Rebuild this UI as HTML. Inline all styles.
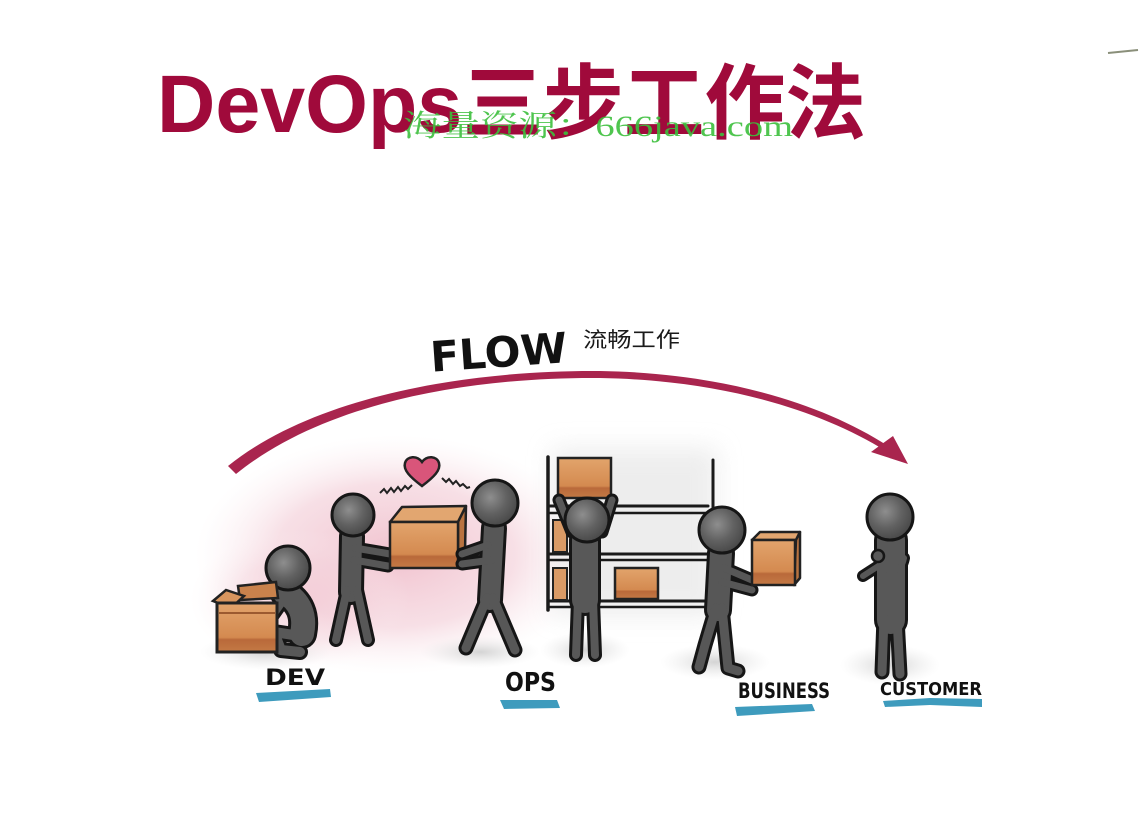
<!DOCTYPE html>
<html><head><meta charset="utf-8"><style>
html,body{margin:0;padding:0;background:#fff;}
svg{display:block;}
</style></head><body>
<svg width="1143" height="818" viewBox="0 0 1143 818" xmlns="http://www.w3.org/2000/svg">
<defs>
<radialGradient id="pink" cx="0.5" cy="0.5" r="0.5">
<stop offset="0" stop-color="#f0bfcc" stop-opacity="0.95"/>
<stop offset="0.6" stop-color="#f4d2db" stop-opacity="0.7"/>
<stop offset="1" stop-color="#fbeef1" stop-opacity="0"/>
</radialGradient>
<radialGradient id="shadow" cx="0.5" cy="0.5" r="0.5">
<stop offset="0" stop-color="#cfcfcf" stop-opacity="0.9"/>
<stop offset="1" stop-color="#e8e8e8" stop-opacity="0"/>
</radialGradient>
<radialGradient id="head" cx="0.4" cy="0.38" r="0.65">
<stop offset="0" stop-color="#8e8e8e"/>
<stop offset="0.55" stop-color="#616161"/>
<stop offset="1" stop-color="#474747"/>
</radialGradient>
<linearGradient id="boxg" x1="0" y1="0" x2="0" y2="1">
<stop offset="0" stop-color="#e2a46c"/>
<stop offset="0.7" stop-color="#d48a50"/>
<stop offset="0.75" stop-color="#b9693a"/>
<stop offset="1" stop-color="#c47a45"/>
</linearGradient>
<filter id="blur" x="-30%" y="-30%" width="160%" height="160%">
<feGaussianBlur stdDeviation="12"/>
</filter>
</defs>

<!-- watercolor backgrounds -->
<ellipse cx="395" cy="555" rx="200" ry="120" fill="url(#pink)"/>
<ellipse cx="300" cy="600" rx="110" ry="70" fill="url(#pink)" opacity="0.6"/>
<rect x="552" y="448" width="165" height="168" fill="#e9e9e9" filter="url(#blur)" opacity="0.8"/>

<!-- ground shadows -->
<ellipse cx="265" cy="652" rx="65" ry="18" fill="url(#shadow)"/>
<ellipse cx="480" cy="652" rx="60" ry="16" fill="url(#shadow)"/>
<ellipse cx="585" cy="650" rx="45" ry="18" fill="url(#shadow)"/>
<ellipse cx="715" cy="662" rx="55" ry="18" fill="url(#shadow)"/>
<ellipse cx="890" cy="665" rx="50" ry="20" fill="url(#shadow)"/>

<!-- top-right small mark -->
<line x1="1108" y1="53" x2="1138" y2="50" stroke="#8a8f7a" stroke-width="2"/>

<!-- Title -->
<text x="157" y="132" textLength="709" lengthAdjust="spacingAndGlyphs" font-family="'Liberation Sans','Noto Sans CJK SC',sans-serif" font-weight="bold" font-size="82" fill="#a00a3b">DevOps三步工作法</text>
<!-- watermark -->
<text x="403" y="136" textLength="390" lengthAdjust="spacingAndGlyphs" font-family="'Liberation Serif','Noto Serif CJK SC',serif" font-size="30" fill="#3cbf3c" opacity="0.9">海量资源：666java.com</text>

<!-- FLOW -->
<g transform="rotate(-4 498 350)">
<text x="430" y="367" textLength="137" lengthAdjust="spacingAndGlyphs" font-family="'DejaVu Sans','Liberation Sans',sans-serif" font-weight="bold" font-size="42" fill="#111">FLOW</text>
</g>
<text x="583" y="347" textLength="97" lengthAdjust="spacingAndGlyphs" font-family="'Liberation Sans','Noto Sans CJK SC',sans-serif" font-size="21" fill="#1a1a1a">流畅工作</text>

<!-- Arc (tapered) -->
<path d="M228,466 C320,392 480,370 600,371 C720,373 820,402 888,446 L886,451 C818,409 720,380 600,378 C482,377 330,398 236,474 Z" fill="#a9254e"/>
<polygon points="871,452 893,436 908,464" fill="#a9254e"/>

<!-- Shelf -->
<g stroke="#1a1a1a" stroke-linecap="round" fill="none">
<line x1="548" y1="457" x2="548" y2="610" stroke-width="3.5"/>
<line x1="713" y1="460" x2="713" y2="512" stroke-width="3"/>
<line x1="550" y1="506" x2="708" y2="506" stroke-width="3"/>
<line x1="550" y1="513" x2="708" y2="513" stroke-width="2.5"/>
<line x1="550" y1="554" x2="708" y2="554" stroke-width="3"/>
<line x1="550" y1="560" x2="708" y2="560" stroke-width="2.5"/>
<line x1="550" y1="601" x2="708" y2="601" stroke-width="3"/>
<line x1="550" y1="607" x2="708" y2="607" stroke-width="2.5"/>
</g>
<!-- shelf boxes -->
<rect x="553" y="520" width="14" height="32" fill="#d99a66" stroke="#222" stroke-width="2"/>
<rect x="553" y="568" width="14" height="32" fill="#d99a66" stroke="#222" stroke-width="2"/>
<rect x="615" y="568" width="43" height="31" fill="url(#boxg)" stroke="#222" stroke-width="2.5"/>

<!-- Figure 1 DEV squatting -->
<g fill="none" stroke-linecap="round" stroke-linejoin="round">
<path d="M284,592 Q308,606 302,634" stroke="#161616" stroke-width="30"/>
<path d="M300,636 L274,632 L281,650 L300,652" stroke="#161616" stroke-width="16"/>
<path d="M282,602 L268,622" stroke="#161616" stroke-width="14"/>
<path d="M284,592 Q308,606 302,634" stroke="#585858" stroke-width="24"/>
<path d="M300,636 L274,632 L281,650 L300,652" stroke="#585858" stroke-width="10"/>
<path d="M282,602 L268,622" stroke="#585858" stroke-width="8"/>
</g>
<circle cx="288" cy="568" r="22" fill="url(#head)" stroke="#161616" stroke-width="3"/>
<!-- DEV box -->
<polygon points="238,586 276,582 278,598 240,600" fill="#c9824c" stroke="#222" stroke-width="2.5"/>
<polygon points="213,601 226,590 244,596 231,608" fill="#d8955e" stroke="#222" stroke-width="2.5"/>
<rect x="217" y="603" width="60" height="49" fill="url(#boxg)" stroke="#222" stroke-width="3"/>
<line x1="219" y1="613" x2="275" y2="613" stroke="#9b5a30" stroke-width="2"/>

<!-- Figure 2 -->
<g fill="none" stroke-linecap="round" stroke-linejoin="round">
<path d="M352,536 L351,592" stroke="#161616" stroke-width="26"/>
<path d="M355,548 L390,554 M354,560 L388,566" stroke="#161616" stroke-width="13"/>
<path d="M347,590 L336,640 M357,590 L368,640" stroke="#161616" stroke-width="14"/>
<path d="M352,536 L351,592" stroke="#575757" stroke-width="20"/>
<path d="M355,548 L390,554 M354,560 L388,566" stroke="#575757" stroke-width="7"/>
<path d="M347,590 L336,640 M357,590 L368,640" stroke="#575757" stroke-width="8"/>
</g>
<circle cx="353" cy="515" r="21" fill="url(#head)" stroke="#161616" stroke-width="3"/>

<!-- Held box -->
<polygon points="390,522 402,507 466,506 458,522" fill="#e2a670" stroke="#222" stroke-width="2.5" stroke-linejoin="round"/>
<polygon points="458,522 466,506 465,552 458,568" fill="#b97340" stroke="#222" stroke-width="2.5" stroke-linejoin="round"/>
<rect x="390" y="522" width="68" height="46" fill="url(#boxg)" stroke="#222" stroke-width="2.5"/>

<!-- Heart -->
<path d="M422,486 C410,477 403,470 405,463 C407,456 417,455 422,462 C427,455 437,456 439,463 C441,470 434,477 422,486 Z" fill="#d9557a" stroke="#222" stroke-width="2.5"/>
<path d="M380,493 l4,-4 3,4 4,-5 3,4 4,-5 3,4 4,-5 3,3 4,-4" fill="none" stroke="#222" stroke-width="2"/>
<path d="M442,478 l4,4 3,-3 4,5 3,-3 4,5 3,-2 4,4 3,-1" fill="none" stroke="#222" stroke-width="2"/>

<!-- Figure 3 OPS -->
<g fill="none" stroke-linecap="round" stroke-linejoin="round">
<path d="M494,528 L490,600" stroke="#161616" stroke-width="26"/>
<path d="M488,545 L462,554 M492,560 L462,564" stroke="#161616" stroke-width="13"/>
<path d="M487,598 L466,648 M493,598 L515,650" stroke="#161616" stroke-width="15"/>
<path d="M494,528 L490,600" stroke="#575757" stroke-width="20"/>
<path d="M488,545 L462,554 M492,560 L462,564" stroke="#575757" stroke-width="7"/>
<path d="M487,598 L466,648 M493,598 L515,650" stroke="#575757" stroke-width="9"/>
</g>
<circle cx="495" cy="503" r="23" fill="url(#head)" stroke="#161616" stroke-width="3"/>

<!-- Figure 4 shelf -->
<rect x="558" y="458" width="53" height="40" fill="url(#boxg)" stroke="#222" stroke-width="2.5"/>
<g fill="none" stroke-linecap="round" stroke-linejoin="round">
<path d="M572,532 L559,500 M602,532 L612,500" stroke="#161616" stroke-width="13"/>
<path d="M585,540 L585,600" stroke="#161616" stroke-width="32"/>
<path d="M578,600 L576,655 M593,600 L595,655" stroke="#161616" stroke-width="14"/>
<path d="M572,532 L559,500 M602,532 L612,500" stroke="#585858" stroke-width="7"/>
<path d="M585,540 L585,600" stroke="#585858" stroke-width="26"/>
<path d="M578,600 L576,655 M593,600 L595,655" stroke="#585858" stroke-width="8"/>
</g>
<circle cx="587" cy="520" r="22" fill="url(#head)" stroke="#161616" stroke-width="3"/>

<!-- Business -->
<g fill="none" stroke-linecap="round" stroke-linejoin="round">
<path d="M721,553 L718,610" stroke="#161616" stroke-width="28"/>
<path d="M716,608 L705,645 L699,667 M722,608 L728,668 L738,671" stroke="#161616" stroke-width="15"/>
<path d="M724,568 L752,580 M722,582 L752,590" stroke="#161616" stroke-width="13"/>
<path d="M721,553 L718,610" stroke="#575757" stroke-width="22"/>
<path d="M716,608 L705,645 L699,667 M722,608 L728,668 L738,671" stroke="#575757" stroke-width="9"/>
<path d="M724,568 L752,580 M722,582 L752,590" stroke="#575757" stroke-width="7"/>
</g>
<circle cx="722" cy="530" r="23" fill="url(#head)" stroke="#161616" stroke-width="3"/>
<polygon points="752,540 760,532 800,532 796,540" fill="#e2a670" stroke="#222" stroke-width="2.5" stroke-linejoin="round"/>
<polygon points="796,540 800,532 800,578 794,585" fill="#b97340" stroke="#222" stroke-width="2.5" stroke-linejoin="round"/>
<rect x="752" y="540" width="43" height="45" fill="url(#boxg)" stroke="#222" stroke-width="2.5"/>

<!-- Customer -->
<g fill="none" stroke-linecap="round" stroke-linejoin="round">
<path d="M891,540 L891,620" stroke="#161616" stroke-width="34"/>
<path d="M884,618 L882,672 M897,618 L900,674" stroke="#161616" stroke-width="15"/>
<path d="M904,558 Q900,578 880,566 M880,565 L863,576" stroke="#161616" stroke-width="12"/>
<path d="M891,540 L891,620" stroke="#585858" stroke-width="28"/>
<path d="M884,618 L882,672 M897,618 L900,674" stroke="#585858" stroke-width="9"/>
<path d="M904,558 Q900,578 880,566 M880,565 L863,576" stroke="#585858" stroke-width="6"/>
</g>
<circle cx="878" cy="556" r="6" fill="#5a5a5a" stroke="#161616" stroke-width="2.5"/>
<circle cx="890" cy="517" r="23" fill="url(#head)" stroke="#161616" stroke-width="3"/>

<!-- Labels -->
<g font-family="'DejaVu Sans','Liberation Sans',sans-serif" font-weight="bold" fill="#111">
<text x="265" y="685" textLength="60" lengthAdjust="spacingAndGlyphs" font-size="22">DEV</text>
<text x="505" y="691" textLength="51" lengthAdjust="spacingAndGlyphs" font-size="26">OPS</text>
<text x="738" y="698" textLength="92" lengthAdjust="spacingAndGlyphs" font-size="21">BUSINESS</text>
<text x="880" y="695" textLength="102" lengthAdjust="spacingAndGlyphs" font-size="18">CUSTOMER</text>
</g>
<g fill="#3e9bbd">
<polygon points="256,693 330,689 331,697 259,702"/>
<polygon points="500,700 557,700 560,708 504,709"/>
<polygon points="735,707 812,704 815,711 737,716"/>
<polygon points="883,701 930,698 982,699 982,707 930,705 885,707"/>
</g>
</svg>
</body></html>
